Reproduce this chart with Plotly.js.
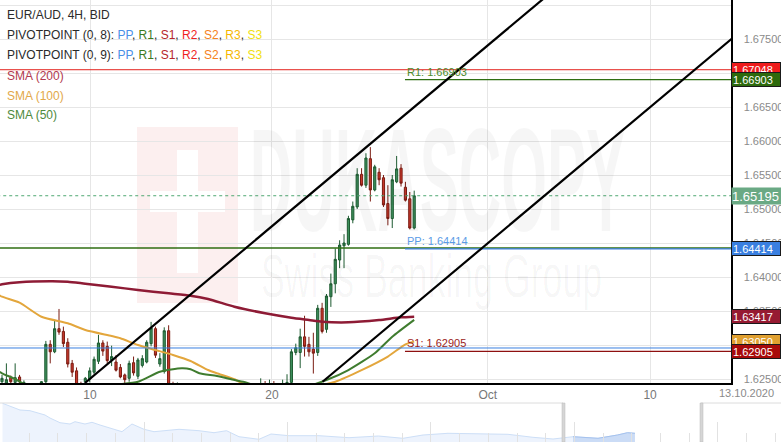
<!DOCTYPE html>
<html><head><meta charset="utf-8">
<script src="https://cdn.plot.ly/plotly-3.0.1.min.js"></script>
<style>html,body{margin:0;padding:0;background:#fff;}#chart{width:781px;height:442px;}</style>
</head><body><div id="chart"></div>
<script>
// ---------- DATA ----------
const candleOpen = [1.6246,1.6244,1.6252,1.6245,1.6253,1.6241,1.6240,1.6238,1.6236,1.6240,
1.6246,1.6301,1.6290,1.6324,1.6320,1.6304,1.6273,1.6262,1.6242,1.6246,
1.6250,1.6260,1.6276,1.6303,1.6298,1.6278,1.6275,1.6267,1.6256,1.6251,
1.6274,1.6254,1.6270,1.6275,1.6302,1.6324,1.6272,1.6261,1.6321,1.6240,
1.6232,1.6238,1.6225,1.6218,1.6224,1.6230,1.6219,1.6210,1.6203,1.6212,
1.6221,1.6214,1.6206,1.6211,1.6220,1.6230,1.6222,1.6228,1.6235,1.6232,
1.6240,1.6236,1.6243,1.6234,1.6238,1.6242,1.6245,1.6289,1.6289,1.6312,
1.6301,1.6294,1.6289,1.6354,1.6323,1.6371,1.6390,1.6425,1.6446,1.6448,
1.6484,1.6503,1.6551,1.6535,1.6574,1.6528,1.6554,1.6546,1.6508,1.6486,
1.6540,1.6560,1.6532,1.6515,1.6472];
const candleHigh = [1.6256,1.6273,1.6255,1.6273,1.6256,1.6248,1.6243,1.6242,1.6243,1.6247,
1.6306,1.6307,1.6337,1.6353,1.6327,1.6310,1.6278,1.6267,1.6246,1.6253,
1.6267,1.6283,1.6315,1.6307,1.6305,1.6299,1.6285,1.6272,1.6258,1.6277,
1.6283,1.6281,1.6285,1.6307,1.6334,1.6327,1.6288,1.6326,1.6329,1.6246,
1.6245,1.6241,1.6232,1.6228,1.6236,1.6238,1.6224,1.6218,1.6215,1.6226,
1.6230,1.6220,1.6216,1.6225,1.6236,1.6238,1.6232,1.6240,1.6242,1.6251,
1.6247,1.6249,1.6247,1.6242,1.6249,1.6257,1.6294,1.6302,1.6324,1.6343,
1.6312,1.6318,1.6359,1.6362,1.6375,1.6405,1.6442,1.6454,1.6463,1.6490,
1.6511,1.6560,1.6560,1.6582,1.6591,1.6565,1.6560,1.6550,1.6535,1.6550,
1.6578,1.6566,1.6540,1.6525,1.6527];
const candleLow = [1.6240,1.6238,1.6240,1.6240,1.6238,1.6236,1.6230,1.6231,1.6229,1.6235,
1.6243,1.6273,1.6288,1.6315,1.6297,1.6267,1.6253,1.6235,1.6228,1.6240,
1.6245,1.6257,1.6272,1.6284,1.6273,1.6269,1.6261,1.6251,1.6241,1.6246,
1.6255,1.6250,1.6267,1.6273,1.6298,1.6281,1.6268,1.6258,1.6230,1.6228,
1.6226,1.6222,1.6214,1.6212,1.6220,1.6216,1.6205,1.6198,1.6196,1.6208,
1.6210,1.6200,1.6199,1.6207,1.6215,1.6218,1.6214,1.6220,1.6226,1.6228,
1.6230,1.6232,1.6229,1.6225,1.6233,1.6236,1.6240,1.6285,1.6266,1.6283,
1.6283,1.6258,1.6284,1.6317,1.6318,1.6356,1.6376,1.6413,1.6413,1.6446,
1.6479,1.6500,1.6533,1.6531,1.6511,1.6526,1.6535,1.6503,1.6476,1.6472,
1.6538,1.6533,1.6511,1.6470,1.6470];
const candleClose = [1.6251,1.6249,1.6246,1.6252,1.6246,1.6245,1.6238,1.6236,1.6240,1.6246,
1.6301,1.6290,1.6324,1.6319,1.6302,1.6272,1.6260,1.6240,1.6236,1.6251,
1.6262,1.6279,1.6303,1.6291,1.6277,1.6283,1.6263,1.6253,1.6249,1.6273,
1.6259,1.6278,1.6280,1.6304,1.6325,1.6285,1.6280,1.6321,1.6240,1.6232,
1.6238,1.6225,1.6218,1.6224,1.6230,1.6219,1.6210,1.6203,1.6212,1.6221,
1.6214,1.6206,1.6211,1.6220,1.6230,1.6222,1.6228,1.6235,1.6232,1.6240,
1.6236,1.6243,1.6234,1.6238,1.6242,1.6245,1.6290,1.6296,1.6312,1.6298,
1.6290,1.6288,1.6354,1.6320,1.6372,1.6390,1.6426,1.6447,1.6450,1.6486,
1.6504,1.6551,1.6535,1.6575,1.6528,1.6562,1.6543,1.6506,1.6486,1.6543,
1.6559,1.6538,1.6513,1.6472,1.65195];

const sma200Idx = [-1,0,4,11,15,19,25,31,38,43,47,53,60,66,70,73,79,86,91,94];
const sma200Val = [1.63880,1.63893,1.63922,1.63937,1.63931,1.63901,1.63857,1.63809,1.63760,1.63725,1.63676,1.63563,1.63466,1.63401,1.63368,1.63343,1.63334,1.63368,1.63407,1.63417];
const sma100Idx = [-1,0,4,9,15,19,25,27,31,35,39,43,47,49,53,56,60,64,68,72,76,82,88,92,94];
const sma100Val = [1.6375,1.63710,1.63622,1.63416,1.63319,1.63221,1.63132,1.63099,1.63000,1.62926,1.62853,1.62765,1.62632,1.62584,1.62496,1.6240,1.6236,1.6234,1.6236,1.6240,1.6246,1.6263,1.6283,1.6301,1.6305];
const sma50Idx = [-1,0,3,5,10,15,20,25,31,36,41,43,45,49,53,55,58,62,66,70,74,79,85,89,94];
const sma50Val = [1.6262,1.62584,1.62500,1.6243,1.6236,1.6234,1.6237,1.6241,1.6246,1.62607,1.62657,1.62643,1.62584,1.62544,1.62485,1.6246,1.6240,1.6236,1.6236,1.6240,1.62485,1.62632,1.62878,1.63122,1.6337];

const xTickIdx = [20.07, 61.57, 110.8, 147.8];
const xTickText = ['10', '20', 'Oct', '10'];

const trendStartIdx = [18.9, 73.1];
const trendStartVal = [1.62441, 1.62460];
const trendSlope = 0.0005404; // price per candle

const fullLevels = [1.67048, 1.64426, 1.62956];
const fullColors = ['#e3201b', '#2f6e12', '#3a7fe0'];
const pivotNames = ['R1', 'PP', 'S1'];
const pivotLevels = [1.66903, 1.64414, 1.62905];
const pivotColors = ['#2f6e12', '#3a7fe0', '#8e1010'];
const pivotTextColors = ['#4c8a2a', '#5b9be6', '#9b1b1b'];
const pivotStartIdx = 91.9;
const lastPrice = 1.65195;

const navT = [0.32,1.28,2.56,3.84,4.74,5.76,6.4,7.68,8.96,9.6,10.88,11.78,12.8,14.08,15.62,16.9,18.44,19.72,21,22.92,25.48,27.4,29.01,30.6,33.16,34.7,37,40.85,44.69,48.46,51.6,54.16,57.36,61.2,65.04,68.25,70.81,73.37,76.57,79.06,80.35,81.3];
const navV = [38.7,36,32,31.3,29,27,24,19.3,18,20.3,18,19.7,17,13.7,10.3,18,12.7,10.3,11.3,12.7,11.3,9.3,11.3,5.3,2.7,8,6.3,6.3,4.3,6,3.7,7,8.7,8,7.7,4.7,3,5.3,3.7,7,9.3,8.7];
const navSelStart = 72.1;

// ---------- BUILD ----------
const W = 781, H = 442;
const px = x => x / W;
const py = y => 1 - y / H;
const candleIdx = candleOpen.map((_, i) => i);
const xMin = -0.456, xMax = 166.25;
const yMax = 1.680735, yMin = 1.624412;

const data = [];
data.push({type:'scatter', mode:'lines', x:sma200Idx, y:sma200Val, line:{color:'#8e1b35', width:2.5, shape:'spline', smoothing:0.6}, hoverinfo:'skip'});
data.push({type:'scatter', mode:'lines', x:sma100Idx, y:sma100Val, line:{color:'#e3a63c', width:2, shape:'spline', smoothing:0.6}, hoverinfo:'skip'});
data.push({type:'scatter', mode:'lines', x:sma50Idx, y:sma50Val, line:{color:'#3f7c2f', width:2, shape:'spline', smoothing:0.6}, hoverinfo:'skip'});
data.push({type:'candlestick', x:candleIdx, open:candleOpen, high:candleHigh, low:candleLow, close:candleClose,
  increasing:{line:{color:'#1d5a30', width:1}, fillcolor:'#3d8f5c'},
  decreasing:{line:{color:'#7a1c12', width:1}, fillcolor:'#c8372a'},
  whiskerwidth:0, hoverinfo:'skip'});
// navigator
const selT = [], selV = [];
navT.forEach((t, i) => { if (t >= navSelStart - 1) { selT.push(Math.max(t, navSelStart)); selV.push(navV[i]); } });
data.push({type:'scatter', mode:'lines', x:navT, y:navV, xaxis:'x2', yaxis:'y2', fill:'tozeroy', fillcolor:'#edf3fd', line:{color:'#cddff7', width:1}, hoverinfo:'skip'});
data.push({type:'scatter', mode:'lines', x:selT, y:selV, xaxis:'x2', yaxis:'y2', fill:'tozeroy', fillcolor:'#cbdcf6', line:{color:'#a5c2ee', width:1}, hoverinfo:'skip'});

const shapes = [];
// watermark logo
shapes.push({type:'rect', xref:'paper', yref:'paper', x0:px(137), x1:px(238), y0:py(303), y1:py(127), fillcolor:'#fcefef', line:{width:0}, layer:'below'});
shapes.push({type:'rect', xref:'paper', yref:'paper', x0:px(177), x1:px(198), y0:py(273), y1:py(150), fillcolor:'#ffffff', line:{width:0}, layer:'below'});
shapes.push({type:'rect', xref:'paper', yref:'paper', x0:px(150), x1:px(225), y0:py(212), y1:py(191), fillcolor:'#ffffff', line:{width:0}, layer:'below'});
// full width levels
fullLevels.forEach((v, i) => shapes.push({type:'line', xref:'x', yref:'y', x0:xMin-2, x1:xMax+2, y0:v, y1:v, line:{color:fullColors[i], width: i===1 ? 1.5 : 1}}));
// current pivots
pivotLevels.forEach((v, i) => shapes.push({type:'line', xref:'x', yref:'y', x0:pivotStartIdx, x1:xMax+2, y0:v, y1:v, line:{color:pivotColors[i], width:1.2}}));
// last price dashed
shapes.push({type:'line', xref:'x', yref:'y', x0:xMin-2, x1:xMax+2, y0:lastPrice, y1:lastPrice, line:{color:'#4fa872', width:1, dash:'3px,3px'}});
// trend lines
trendStartIdx.forEach((x0, i) => {
  const x1 = x0 + 110;
  shapes.push({type:'line', xref:'x', yref:'y', x0:x0, y0:trendStartVal[i], x1:x1, y1:trendStartVal[i] + trendSlope*(x1-x0), line:{color:'#000', width:2.2}});
});
// navigator frame
shapes.push({type:'line', xref:'paper', yref:'paper', x0:0, x1:px(563), y0:py(403), y1:py(403), line:{color:'#dcdcdc', width:1}});
shapes.push({type:'line', xref:'paper', yref:'paper', x0:px(701), x1:1, y0:py(403), y1:py(403), line:{color:'#dcdcdc', width:1}});
shapes.push({type:'rect', xref:'paper', yref:'paper', x0:px(562), x1:px(565), y0:0, y1:py(403), fillcolor:'#d6d6d6', line:{color:'#b8b8b8', width:0.5}});
shapes.push({type:'rect', xref:'paper', yref:'paper', x0:px(700), x1:px(703), y0:0, y1:py(403), fillcolor:'#d6d6d6', line:{color:'#b8b8b8', width:0.5}});

const annotations = [];
// watermark text (index 0,1)
annotations.push({xref:'paper', yref:'paper', x:px(437), y:py(181), xanchor:'center', yanchor:'middle', text:'<b>DUKASCOPY</b>', showarrow:false, font:{family:'Liberation Sans Narrow, Arial Narrow, sans-serif', size:70, color:'rgba(0,0,0,0.035)'}});
annotations.push({xref:'paper', yref:'paper', x:px(431), y:py(276), xanchor:'center', yanchor:'middle', text:'Swiss Banking Group', showarrow:false, font:{family:'Liberation Sans Narrow, Arial Narrow, sans-serif', size:43, color:'rgba(0,0,0,0.035)'}});
// legend lines
const legendLines = [
  'EUR/AUD, 4H, BID',
  'PIVOTPOINT (0, 8): <span style="color:#4a8fe6">PP</span>, <span style="color:#3b7a1e">R1</span>, <span style="color:#b5262b">S1</span>, <span style="color:#f01f1f">R2</span>, <span style="color:#f58220">S2</span>, <span style="color:#f5b700">R3</span>, <span style="color:#f0e010">S3</span>',
  'PIVOTPOINT (0, 9): <span style="color:#4a8fe6">PP</span>, <span style="color:#3b7a1e">R1</span>, <span style="color:#b5262b">S1</span>, <span style="color:#f01f1f">R2</span>, <span style="color:#f58220">S2</span>, <span style="color:#f5b700">R3</span>, <span style="color:#f0e010">S3</span>',
  '<span style="color:#b23a4e">SMA (200)</span>',
  '<span style="color:#e2a84a">SMA (100)</span>',
  '<span style="color:#4e8a3c">SMA (50)</span>'
];
const legendY = [15, 35, 55, 76, 96, 115];
legendLines.forEach((t, i) => annotations.push({xref:'paper', yref:'paper', x:px(5), y:py(legendY[i]), xanchor:'left', yanchor:'middle', text:t, showarrow:false, font:{size:12, color:'#2a2a2a'}}));
// pivot labels
pivotLevels.forEach((v, i) => annotations.push({xref:'x', yref:'y', x:pivotStartIdx, y:v, xanchor:'left', yanchor:'bottom', yshift:0, text:pivotNames[i] + ': ' + v.toFixed(5), showarrow:false, font:{size:11, color:pivotTextColors[i]}}));
// right side price boxes
const boxVals = [fullLevels[0], pivotLevels[0], pivotLevels[1], sma200Val[sma200Val.length-1], sma100Val[sma100Val.length-1], pivotLevels[2]];
const boxColors = ['#ee1c1c', '#2d6a0c', '#3a7fe0', '#961a32', '#e0a030', '#a80a0a'];
boxVals.forEach((v, i) => annotations.push({xref:'paper', yref:'y', x:px(731), y:v, xanchor:'left', yanchor:'middle', text:v.toFixed(5), showarrow:false, align:'left', width:46, height:11, borderpad:1, borderwidth:1, bordercolor:'#1a1a1a', bgcolor:boxColors[i], font:{size:11, color:'#ffffff'}}));
annotations.push({xref:'paper', yref:'y', x:px(731), y:lastPrice, xanchor:'left', yanchor:'middle', text:lastPrice.toFixed(5), showarrow:false, align:'left', width:50, height:16, borderpad:0, bgcolor:'#6aa984', font:{size:13, color:'#ffffff'}});
annotations.push({xref:'paper', yref:'paper', x:px(746), y:py(393), xanchor:'center', yanchor:'middle', text:'13.10.2020', showarrow:false, font:{size:11, color:'#8a8a8a'}});

const layout = {
  width:W, height:H, margin:{l:0, r:0, t:0, b:0}, paper_bgcolor:'#ffffff', plot_bgcolor:'rgba(0,0,0,0)',
  showlegend:false, hovermode:false, dragmode:false,
  font:{family:'Liberation Sans, Arial, sans-serif', color:'#333'},
  xaxis:{domain:[0, 731/W], range:[xMin, xMax], anchor:'y', tickmode:'array', tickvals:xTickIdx, ticktext:xTickText,
    showgrid:true, gridcolor:'#e6e6e6', zeroline:false, showline:true, linecolor:'#000', linewidth:1.5, ticks:'',
    tickfont:{size:12, color:'#777'}, rangeslider:{visible:false}},
  yaxis:{domain:[1 - 383/H, 1], range:[yMin, yMax], side:'right', anchor:'x', tickmode:'linear', tick0:1.625, dtick:0.005, tickformat:'.5f',
    showgrid:true, gridcolor:'#e6e6e6', zeroline:false, showline:true, linecolor:'#000', linewidth:1.5, ticks:'', ticklabelstandoff:9,
    tickfont:{size:11, color:'#8a8a8a'}},
  xaxis2:{domain:[0, 1], anchor:'y2', range:[0, 100], showgrid:false, zeroline:false, showline:false, showticklabels:false,
    ticks:'inside', tickmode:'linear', tick0:18.44, dtick:18.37, ticklen:20, tickcolor:'#e2e2e2',
    minor:{ticks:'inside', dtick:3.674, tick0:18.44, ticklen:9, tickcolor:'#e2e2e2', showgrid:false}},
  yaxis2:{domain:[0, 39/H], anchor:'x2', range:[0, 39], visible:false},
  shapes:shapes, annotations:annotations
};

const wmScale = {0:[0.84, 2.1], 1:[0.83, 1.4]};
Plotly.newPlot('chart', data, layout, {staticPlot:true}).then(gd => {
  gd.querySelectorAll('.annotation').forEach(a => {
    const k = +a.getAttribute('data-index');
    const s = wmScale[k];
    if (!s) return;
    const t = a.querySelector('text');
    if (!t) return;
    t.style.transformBox = 'fill-box';
    t.style.transformOrigin = '50% 50%';
    t.style.transform = 'scale(' + s[0] + ',' + s[1] + ')';
  });
});
</script>
</body></html>
